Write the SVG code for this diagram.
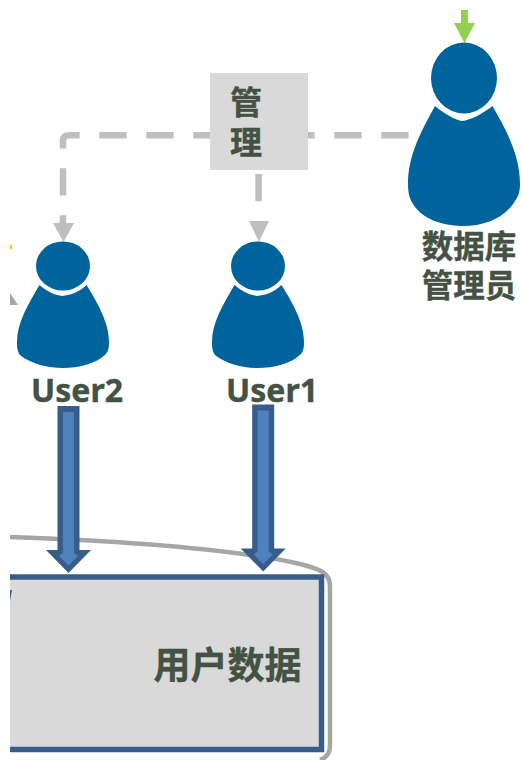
<svg xmlns="http://www.w3.org/2000/svg" width="521" height="760" viewBox="0 0 521 760">
<style>
text{font-family:"Noto Sans CJK SC","Liberation Sans",sans-serif;font-weight:700;fill:#445243;stroke:#445243;stroke-width:.4;text-anchor:middle}
text.latin{font-family:"Noto Sans","Liberation Sans",sans-serif}
.user{fill:#00649c}
.dash{fill:none;stroke:#bfbfbf;stroke-width:6.500;stroke-dasharray:27.300 19.700}
.head{fill:#bfbfbf}
.aout{fill:#385d8a}
.ain{fill:#4f81bd}
</style>
<defs>
<g id="person">
<ellipse cx="0" cy="0" rx="27" ry="24.500"/>
<path d="M-23.500 19C-14 27 -7 29 -1 30C7 29 15 27 23.500 19C34 36 46 56 46 76C46 80 46 84 43 88C33 98 15 102 0 102C-15 102 -32 98 -43 89C-46 85 -46 80 -46 76C-46 56 -34 37 -23.500 19Z"/>
</g>
<g id="personL">
<ellipse cx="0" cy="0" rx="33" ry="35.500"/>
<path d="M-29 28C-18 37 -8 42 -2 43C7 42 18 36 28.500 28C41 50 56 76 56 106C56 112 55 118 51 123C39 143 15 148 0 148C-16 148 -40 144 -51 126C-55 120 -56 113 -56 106C-56 76 -41 50 -29 28Z"/>
</g>
<g id="block-arrow">
<path class="aout" d="M57.500 406H79.500V550H91L68.500 573L46 550H57.500Z"/>
<path class="ain" d="M63 412H74V553L78 556L68.500 565.500L59 556L63 553Z"/>
</g>
</defs>
<g id="connectors">
<path class="dash" d="M408.600 135.300H69Q63 135.300 63 141V225"/>
<path class="dash" d="M258.600 174V201.300"/>
<path class="head" d="M53 223H74L63.500 242Z"/>
<path class="head" d="M249 221H269L259 242Z"/>
<path d="M461 10H468V23H475L464.500 43L454 23H461Z" fill="#92d050"/>
<path d="M10 293V305H18Z" fill="#a6a6a6"/>
<path d="M10 245H12V249H10Z" fill="#ffc000"/>
</g>
<g id="db">
<path d="M10 537C120 541 230 548 300 564C320 569 330 573 330 586V745Q330 757 320 760" fill="none" stroke="#a6a6a6" stroke-width="4.500"/>
<rect x="10" y="577" width="311.500" height="172.500" fill="#d9d9d9"/>
<path d="M10 577H321.500V749.500H10" fill="none" stroke="#385d8a" stroke-width="5.500"/>
<path d="M10 590H12L10 601Z" fill="#385d8a"/>
<text x="227.500" y="679" font-size="37">用户数据</text>
</g>
<use id="arrow-user2" href="#block-arrow"/>
<use id="arrow-user1" href="#block-arrow" transform="translate(194.700 -1.500)"/>
<g id="manage">
<rect x="210" y="73" width="98" height="97" fill="#d9d9d9"/>
<text x="246" y="114" font-size="32">管</text>
<text x="246" y="154" font-size="32">理</text>
</g>
<g id="admin">
<use href="#personL" class="user" transform="translate(464 78)"/>
<text x="469" y="258" font-size="31.500">数据库</text>
<text x="469" y="297" font-size="31.500">管理员</text>
</g>
<g id="user2">
<use href="#person" class="user" transform="translate(63 266)"/>
<text class="latin" x="77" y="402" font-size="32">User2</text>
</g>
<g id="user1">
<use href="#person" class="user" transform="translate(258 266)"/>
<text class="latin" x="272" y="402" font-size="32">User1</text>
</g>
</svg>
